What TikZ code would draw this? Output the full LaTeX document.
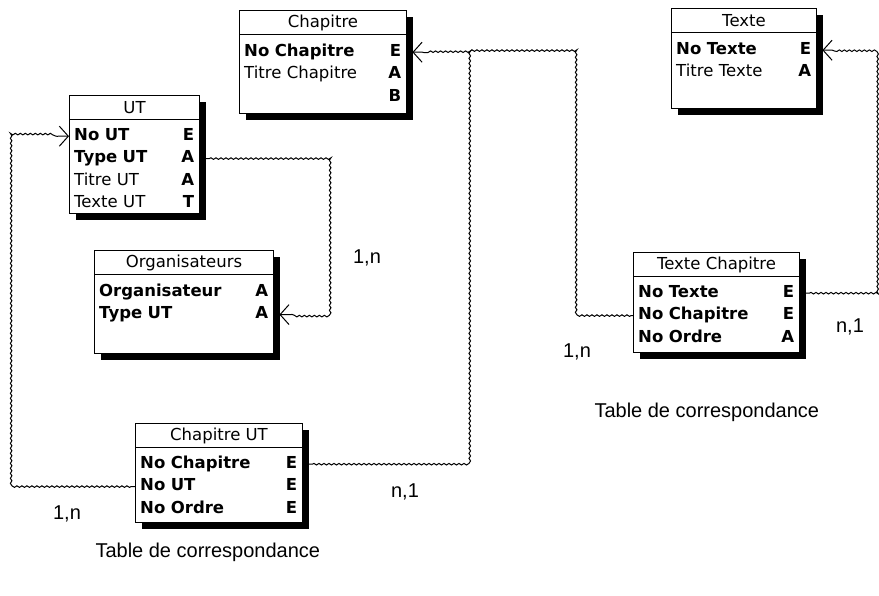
\documentclass[tikz,border=0pt]{standalone}
\usepackage{fontspec}
\setmainfont{Liberation Sans}
\newfontfamily\tabfont{DejaVu Sans}
\usetikzlibrary{arrows.meta,positioning,shadows,decorations.pathmorphing}
\tikzset{
  tabframe/.style={draw, line width=1pt, fill=white, anchor=north west, inner sep=0pt, drop shadow={shadow xshift=6pt, shadow yshift=-6pt, fill=black, opacity=1}},
  tabhead/.style={draw, line width=1pt, anchor=north, minimum height=24pt, inner sep=0pt, font=\tabfont\fontsize{16.5}{20}\selectfont},
  champ/.style={inner xsep=5pt, inner ysep=0pt, minimum height=22pt, text height=12pt, text depth=4pt, align=left, font=\tabfont\fontsize{16.5}{20}\selectfont},
  link/.style={line width=1pt, decorate, decoration={snake, amplitude=0.8pt, segment length=5pt, pre length=4pt, post length=10pt}, -{Straight Barb[length=9pt, width=20pt, line width=1pt]}},
  joint/.style={line width=1pt, decorate, decoration={snake, amplitude=0.8pt, segment length=5pt, pre length=2pt, post length=0pt}},
  card/.style={font=\fontsize{20}{24}\selectfont},
  legende/.style={anchor=west, font=\fontsize{20}{24}\selectfont}
}
\newcommand{\cle}[2]{\textbf{#1}\hfill\textbf{#2}}
\newcommand{\attr}[2]{#1\hfill\textbf{#2}}

\begin{document}
\begin{tikzpicture}[x=1pt, y=-1pt]
  \useasboundingbox (0,0) rectangle (879,595);

  \node[tabframe, minimum width=167pt, minimum height=103pt] (chap) at (239,10) {};
  \node[tabhead, minimum width=167pt] (chap-h) at (chap.north) {Chapitre};
  \node[champ, text width=157pt, below right=6pt and 0pt of chap-h.south west] (chap-no) {\cle{No Chapitre}{E}};
  \node[champ, text width=157pt, below=0pt of chap-no] (chap-titre) {\attr{Titre Chapitre}{A}};
  \node[champ, text width=157pt, below=0pt of chap-titre] (chap-b) {\attr{}{B}};

  \node[tabframe, minimum width=145pt, minimum height=100pt] (tex) at (671,8) {};
  \node[tabhead, minimum width=145pt] (tex-h) at (tex.north) {Texte};
  \node[champ, text width=135pt, below right=6pt and 0pt of tex-h.south west] (tex-no) {\cle{No Texte}{E}};
  \node[champ, text width=135pt, below=0pt of tex-no] (tex-titre) {\attr{Titre Texte}{A}};

  \node[tabframe, minimum width=130pt, minimum height=118pt] (ut) at (69,95) {};
  \node[tabhead, minimum width=130pt] (ut-h) at (ut.north) {UT};
  \node[champ, text width=120pt, below right=5pt and 0pt of ut-h.south west] (ut-no) {\cle{No UT}{E}};
  \node[champ, text width=120pt, below=0pt of ut-no] (ut-type) {\cle{Type UT}{A}};
  \node[champ, text width=120pt, below=0pt of ut-type] (ut-titre) {\attr{Titre UT}{A}};
  \node[champ, text width=120pt, below=0pt of ut-titre] (ut-texte) {\attr{Texte UT}{T}};

  \node[tabframe, minimum width=179pt, minimum height=103pt] (orga) at (94,250) {};
  \node[tabhead, minimum width=179pt] (orga-h) at (orga.north) {Organisateurs};
  \node[champ, text width=169pt, below right=6pt and 0pt of orga-h.south west] (orga-nom) {\cle{Organisateur}{A}};
  \node[champ, text width=169pt, below=0pt of orga-nom] (orga-type) {\cle{Type UT}{A}};

  \node[tabframe, minimum width=167pt, minimum height=99pt] (chapUT) at (135,423) {};
  \node[tabhead, minimum width=167pt] (chapUT-h) at (chapUT.north) {Chapitre UT};
  \node[champ, text width=157pt, below right=5pt and 0pt of chapUT-h.south west] (chapUT-chap) {\cle{No Chapitre}{E}};
  \node[champ, text width=157pt, below=0pt of chapUT-chap] (chapUT-ut) {\cle{No UT}{E}};
  \node[champ, text width=157pt, below=0pt of chapUT-ut] (chapUT-ordre) {\cle{No Ordre}{E}};

  \node[tabframe, minimum width=166pt, minimum height=100pt] (texchap) at (633,252) {};
  \node[tabhead, minimum width=166pt] (texchap-h) at (texchap.north) {Texte Chapitre};
  \node[champ, text width=156pt, below right=5pt and 0pt of texchap-h.south west] (texchap-tex) {\cle{No Texte}{E}};
  \node[champ, text width=156pt, below=0pt of texchap-tex] (texchap-chap) {\cle{No Chapitre}{E}};
  \node[champ, text width=156pt, below=0pt of texchap-chap] (texchap-ordre) {\cle{No Ordre}{A}};

  \coordinate (bordTexte) at (876,0);
  \coordinate (fourche) at (468,0);
  \coordinate (retour) at (577,0);
  \coordinate (gauche) at (12,0);
  \coordinate (milieu) at (330,0);

  \draw[link] ([xshift=6pt]texchap-tex.east) -| (bordTexte |- tex-no.east) -- ([xshift=6pt]tex-no.east);
  \draw[link] ([xshift=6pt]chapUT-chap.east) -| (fourche |- chap-no.east) -- ([xshift=6pt]chap-no.east);
  \draw[joint] (texchap-chap.west) -| (retour |- chap-no.east) -- (fourche |- chap-no.east);
  \draw[link] (chapUT-ut.west) -| (gauche |- ut-no.west) -- (ut-no.west);
  \draw[link] ([xshift=6pt]ut-type.east) -| (milieu |- orga-type.east) -- ([xshift=6pt]orga-type.east);

  \node[card] (c1) at (367,258) {1,n};
  \node[card] (c2) at (577,352) {1,n};
  \node[card] (c3) at (850,327) {n,1};
  \node[card] (c4) at (405,492) {n,1};
  \node[card] (c5) at (67,514) {1,n};

  \node[legende] (leg1) at (591,412) {Table de correspondance};
  \node[legende] (leg2) at (92,552) {Table de correspondance};
\end{tikzpicture}
\end{document}
